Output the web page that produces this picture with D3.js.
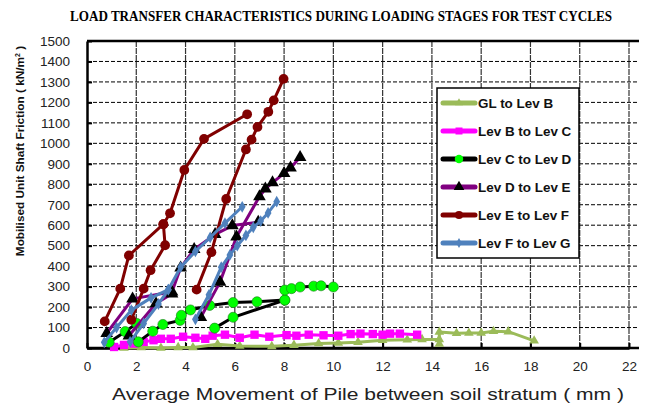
<!DOCTYPE html>
<html>
<head>
<meta charset="utf-8">
<script src="https://cdn.jsdelivr.net/npm/d3@7"></script>
<style>
  body { margin: 0; background: #fff; }
</style>
</head>
<body>
<div id="chart"></div>
<script>
// axis ticks
var xTicks = [0, 2, 4, 6, 8, 10, 12, 14, 16, 18, 20, 22];
var yTicks = [0, 100, 200, 300, 400, 500, 600, 700, 800, 900, 1000, 1100, 1200, 1300, 1400, 1500];

// series: each one is a list of loading cycles, each cycle a list of [movement mm, friction kN/m2]
var glToLevB = [
  [[1.5,0],[2.2,2],[3.0,0],[3.7,3],[4.3,2],[5.3,18],[6.2,10],[7.5,8],[8.4,14],[9.4,22],[10.2,25],[11.0,28],[12.0,38],[13.0,40],[13.6,42],[14.3,42]],
  [[14.3,20],[14.3,78],[15.0,72],[15.5,73],[16.0,73],[16.5,82],[17.1,80],[18.15,35]]
];
var levBtoC = [
  [[1.1,5],[1.5,15],[1.9,22],[2.3,30],[2.7,38],[3.0,45],[3.4,45],[3.9,55],[4.4,50],[4.8,45],[5.1,60],[5.6,65],[6.2,50],[6.8,65],[7.4,55],[8.1,63],[8.5,60],[9.0,65],[9.6,62],[10.2,60],[10.7,68],[11.1,70],[11.6,68],[12.0,65],[12.3,70],[12.7,70],[13.4,65]]
];
var levCtoD = [
  [[0.9,28],[1.55,80],[2.02,120]],
  [[2.08,30],[2.67,82],[3.08,115],[3.78,135],[3.83,160],[4.2,186],[4.98,208],[5.93,222],[6.9,226],[8.03,234]],
  [[5.18,97],[5.93,150],[8.03,234],[8.03,283],[8.3,290],[8.65,298],[9.2,302],[9.5,304],[10.0,298]]
];
var levDtoE = [
  [[0.8,72],[1.85,240],[3.45,275],[3.8,392],[4.35,482],[5.2,555],[5.9,598],[6.95,615]],
  [[1.7,60],[2.8,217],[3.45,265]],
  [[4.62,150],[5.4,322],[6.07,543],[7.0,740],[7.24,778],[7.53,808],[8.0,853],[8.26,880],[8.65,932]]
];
var levEtoF = [
  [[0.72,130],[1.35,290],[1.7,452],[3.1,605]],
  [[1.8,138],[2.3,290],[2.58,380],[3.17,502],[3.1,605],[3.37,658],[3.95,870],[4.75,1022],[6.5,1142]],
  [[4.45,285],[5.05,468],[5.65,728],[6.45,970],[6.68,1018],[6.92,1080],[7.36,1154],[7.58,1210],[7.98,1315]]
];
var levFtoG = [
  [[0.7,28],[1.2,100],[1.8,185],[2.6,245],[3.3,285]],
  [[1.75,30],[2.3,120],[2.9,215],[3.3,285],[3.8,395],[4.4,472],[5.0,540],[5.6,610],[6.3,690]],
  [[4.4,140],[4.95,260],[5.45,395],[5.8,455],[6.1,500],[6.45,550],[6.75,590],[7.05,620],[7.35,660],[7.7,715]]
];

var seriesNames = ["GL to Lev B", "Lev B to Lev C", "Lev C to Lev D", "Lev D to Lev E", "Lev E to Lev F", "Lev F to Lev G"];
var seriesData = [glToLevB, levBtoC, levCtoD, levDtoE, levEtoF, levFtoG];

// look of each series (line colour, marker shape / fill)
var styles = [
  {line: "#9bbb59", sym: d3.symbolTriangle, size: 40, fill: "#9bbb59", stroke: "none"},
  {line: "#ff00ff", sym: d3.symbolSquare, size: 70, fill: "#ff00ff", stroke: "none"},
  {line: "#000000", sym: d3.symbolCircle, size: 80, fill: "#00ff00", stroke: "#1a7a1a"},
  {line: "#800080", sym: d3.symbolTriangle, size: 70, fill: "#000000", stroke: "none"},
  {line: "#800000", sym: d3.symbolCircle, size: 75, fill: "#800000", stroke: "none"},
  {line: "#4f81bd", sym: d3.symbolDiamond, size: 40, fill: "#4f81bd", stroke: "none"}
];

var W = 652, H = 405;
var plotL = 87, plotT = 41, plotR = 639, plotB = 348;

var svg = d3.select("#chart").append("svg")
  .attr("width", W)
  .attr("height", H)
  .style("font-family", "'Liberation Sans', Arial, sans-serif");

var x = d3.scaleLinear().domain([0, 22]).range([plotL, 629]);
var y = d3.scaleLinear().domain([0, 1500]).range([plotB, plotT]);

// title (taller than plain Times bold, so stretched a bit vertically)
svg.append("text")
  .attr("transform", "translate(341,21) scale(1,1.15)")
  .attr("text-anchor", "middle")
  .style("font-family", "'Liberation Serif', 'Times New Roman', serif")
  .style("font-weight", "bold")
  .style("font-size", "13px")
  .attr("textLength", 542)
  .attr("lengthAdjust", "spacingAndGlyphs")
  .text("LOAD TRANSFER CHARACTERISTICS DURING LOADING STAGES FOR TEST CYCLES");

// gridlines
svg.append("g").selectAll("line")
  .data(yTicks.filter(function(d) { return d > 0 && d < 1500; }))
  .enter().append("line")
    .attr("x1", plotL).attr("x2", plotR)
    .attr("y1", function(d) { return y(d); })
    .attr("y2", function(d) { return y(d); })
    .attr("stroke", "#000")
    .attr("stroke-width", 1)
    .attr("stroke-dasharray", "4,2");

svg.append("g").selectAll("line")
  .data(xTicks.filter(function(d) { return d > 0; }))
  .enter().append("line")
    .attr("x1", function(d) { return x(d); })
    .attr("x2", function(d) { return x(d); })
    .attr("y1", plotT).attr("y2", plotB)
    .attr("stroke", "#333")
    .attr("stroke-width", 1.2)
    .attr("stroke-dasharray", "6,1");

// top border
svg.append("line")
  .attr("x1", plotL).attr("x2", plotR)
  .attr("y1", y(1500)).attr("y2", y(1500))
  .attr("stroke", "#000")
  .attr("stroke-width", 2.5);

// axes
var yAxis = svg.append("g")
  .attr("transform", "translate(" + plotL + ",0)")
  .call(d3.axisLeft(y).tickValues(yTicks).tickFormat(d3.format("d"))
    .tickSize(-5).tickSizeOuter(0).tickPadding(17));

var xAxis = svg.append("g")
  .attr("transform", "translate(0," + plotB + ")")
  .call(d3.axisBottom(x).tickValues(xTicks).tickFormat(d3.format("d"))
    .tickSize(-5).tickSizeOuter(0).tickPadding(13));

[yAxis, xAxis].forEach(function(a) {
  a.select(".domain").attr("stroke", "#000").attr("stroke-width", 2.5);
  a.selectAll(".tick line").attr("stroke", "#000").attr("stroke-width", 2);
  a.selectAll(".tick text")
    .style("font-family", "'Liberation Sans', Arial, sans-serif")
    .style("font-size", "13.5px")
    .attr("fill", "#222");
});

// x axis extends to the plot edge
svg.append("line")
  .attr("x1", plotL).attr("x2", plotR)
  .attr("y1", plotB).attr("y2", plotB)
  .attr("stroke", "#000")
  .attr("stroke-width", 2.5);

// axis titles
svg.append("text")
  .attr("x", 112)
  .attr("y", 400)
  .style("font-size", "17px")
  .attr("textLength", 512)
  .attr("lengthAdjust", "spacingAndGlyphs")
  .attr("fill", "#222")
  .text("Average Movement of Pile between soil stratum ( mm )");

var yTitle = svg.append("text")
  .attr("transform", "translate(24,151) rotate(-90)")
  .attr("text-anchor", "middle")
  .style("font-size", "11.8px")
  .style("font-weight", "bold")
  .attr("fill", "#111");
yTitle.append("tspan").text("Mobilised Unit Shaft Friction ( kN/m");
yTitle.append("tspan").attr("dy", -4).style("font-size", "7px").text("2");
yTitle.append("tspan").attr("dy", 4).text(" )");

// series
var line = d3.line()
  .x(function(d) { return x(d[0]); })
  .y(function(d) { return y(d[1]); });

seriesData.forEach(function(cycles, i) {
  var st = styles[i];
  var g = svg.append("g");
  g.selectAll("path.cycle")
    .data(cycles)
    .enter().append("path")
      .attr("class", "cycle")
      .attr("d", line)
      .attr("fill", "none")
      .attr("stroke", st.line)
      .attr("stroke-width", 3)
      .attr("stroke-linejoin", "round");
  var pts = [].concat.apply([], cycles);
  g.selectAll("path.mark")
    .data(pts)
    .enter().append("path")
      .attr("class", "mark")
      .attr("transform", function(d) { return "translate(" + x(d[0]) + "," + y(d[1]) + ")"; })
      .attr("d", d3.symbol().type(st.sym).size(st.size))
      .attr("fill", st.fill)
      .attr("stroke", st.stroke)
      .attr("stroke-width", 0.6);
});

// legend
var lg = svg.append("g").attr("transform", "translate(437,88)");
lg.append("rect")
  .attr("width", 142)
  .attr("height", 170)
  .attr("fill", "#fff")
  .attr("stroke", "#000")
  .attr("stroke-width", 1.5);

var item = lg.selectAll("g.item")
  .data(seriesNames)
  .enter().append("g")
    .attr("class", "item")
    .attr("transform", function(d, i) { return "translate(0," + (15 + i * 28) + ")"; });

item.append("line")
  .attr("x1", 6).attr("x2", 38)
  .attr("stroke", function(d, i) { return styles[i].line; })
  .attr("stroke-width", 5)
  .attr("stroke-linecap", "round");

item.append("path")
  .attr("transform", "translate(22,0)")
  .attr("d", function(d, i) { return d3.symbol().type(styles[i].sym).size(styles[i].size * 0.7)(); })
  .attr("fill", function(d, i) { return styles[i].fill; })
  .attr("stroke", "none");

// legend labels are a little wider than plain bold Arial
item.append("text")
  .attr("transform", "translate(41,4.5) scale(1.12,1)")
  .style("font-size", "12px")
  .style("font-weight", "bold")
  .attr("fill", "#111")
  .text(function(d) { return d; });
</script>
</body>
</html>
